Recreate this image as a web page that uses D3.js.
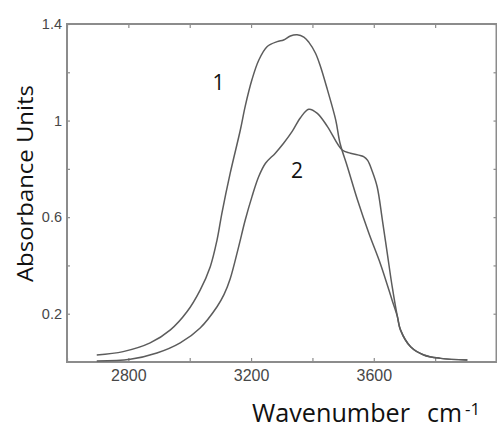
<!DOCTYPE html>
<html>
<head>
<meta charset="utf-8">
<script src="https://cdn.jsdelivr.net/npm/d3@7"></script>
<style>
  html, body { margin: 0; padding: 0; background: #fff; }
  svg { display: block; }
</style>
</head>
<body>
<div id="chart"></div>
<script>
// Spectrum 1 (upper curve)
const wavenumber1 = [2697, 2783, 2871, 2937, 2991, 3034, 3067, 3089, 3105, 3132, 3165, 3181, 3203, 3225,
  3252, 3285, 3306, 3328, 3350, 3372, 3388, 3410, 3426, 3449, 3476, 3490, 3514, 3547, 3584, 3622,
  3660, 3677, 3687, 3720, 3763, 3818, 3905]
const absorbance1 = [0.029, 0.043, 0.079, 0.133, 0.208, 0.298, 0.395, 0.505, 0.617, 0.782, 0.961, 1.06,
  1.17, 1.25, 1.306, 1.327, 1.334, 1.350, 1.355, 1.346, 1.325, 1.279, 1.225, 1.127, 1.002, 0.906,
  0.809, 0.671, 0.533, 0.405, 0.255, 0.188, 0.133, 0.063, 0.029, 0.015, 0.008]

// Spectrum 2 (lower curve)
const wavenumber2 = [2697, 2806, 2893, 2969, 3034, 3089, 3112, 3132, 3159, 3181, 3203, 3225, 3247, 3279,
  3306, 3334, 3361, 3388, 3416, 3449, 3497, 3524, 3568, 3580, 3595, 3611, 3628, 3644, 3660, 3677,
  3687, 3720, 3763, 3818, 3905]
const absorbance2 = [0.004, 0.011, 0.037, 0.079, 0.141, 0.229, 0.28, 0.345, 0.475, 0.588, 0.685, 0.768,
  0.823, 0.865, 0.906, 0.955, 1.012, 1.047, 1.030, 0.975, 0.878, 0.865, 0.850, 0.835, 0.790, 0.726,
  0.588, 0.450, 0.312, 0.188, 0.133, 0.063, 0.029, 0.015, 0.008]

const xTicks = [2600, 2800, 3000, 3200, 3400, 3600, 3800, 4000]
const xTickLabels = { 2800: '2800', 3200: '3200', 3600: '3600' }
const yTicks = [0.2, 0.4, 0.6, 0.8, 1.0, 1.2, 1.4]
const yTickLabels = { 0.2: '0.2', 0.6: '0.6', 1: '1', 1.4: '1.4' }

const W = 497, H = 428
const plot = { left: 67, right: 496.5, top: 24, bottom: 362 }

const svg = d3.select('#chart').append('svg')
  .attr('width', W)
  .attr('height', H)

const x = d3.scaleLinear().domain([2600, 4000]).range([plot.left, plot.right])
const y = d3.scaleLinear().domain([0, 1.4]).range([plot.bottom, plot.top])

const AXIS_COLOR = '#8c8c8c'
const LABEL_COLOR = '#474747'

function styleAxis(g) {
  g.select('.domain').remove()
  g.selectAll('.tick line').attr('stroke', AXIS_COLOR).attr('stroke-width', 1.2)
  g.selectAll('.tick text')
    .attr('fill', LABEL_COLOR)
    .style('font-family', 'Arial, "Liberation Sans", sans-serif')
}

// bottom axis (labelled)
svg.append('g')
  .attr('transform', `translate(0,${plot.bottom})`)
  .call(d3.axisBottom(x).tickValues(xTicks).tickSize(-4).tickPadding(8)
    .tickFormat(d => xTickLabels[d] || ''))
  .call(styleAxis)
  .call(g => g.selectAll('.tick text').style('font-size', '16px'))

// top axis (ticks only)
svg.append('g')
  .attr('transform', `translate(0,${plot.top})`)
  .call(d3.axisTop(x).tickValues(xTicks).tickSize(-4).tickFormat(''))
  .call(styleAxis)

// left axis (labelled)
svg.append('g')
  .attr('transform', `translate(${plot.left},0)`)
  .call(d3.axisLeft(y).tickValues(yTicks).tickSize(-3).tickPadding(5)
    .tickFormat(d => yTickLabels[+d.toFixed(1)] || ''))
  .call(styleAxis)
  .call(g => g.selectAll('.tick text').style('font-size', '14.5px'))

// right axis (ticks only)
svg.append('g')
  .attr('transform', `translate(${plot.right},0)`)
  .call(d3.axisRight(y).tickValues(yTicks).tickSize(-3).tickFormat(''))
  .call(styleAxis)

// frame
svg.append('rect')
  .attr('x', plot.left)
  .attr('y', plot.top)
  .attr('width', plot.right - plot.left)
  .attr('height', plot.bottom - plot.top)
  .attr('fill', 'none')
  .attr('stroke', AXIS_COLOR)
  .attr('stroke-width', 2)

// curves
const line = d3.line()
  .x(d => x(d[0]))
  .y(d => y(d[1]))
  .curve(d3.curveCatmullRom.alpha(0.5))

const series = [
  d3.zip(wavenumber1, absorbance1),
  d3.zip(wavenumber2, absorbance2),
]

svg.append('g').selectAll('path')
  .data(series)
  .enter().append('path')
  .attr('d', line)
  .attr('fill', 'none')
  .attr('stroke', '#5c5c5c')
  .attr('stroke-width', 1.5)
  .attr('stroke-linejoin', 'round')

// curve labels
const curveLabels = [
  { text: '1', wn: 3094, a: 1.125 },
  { text: '2', wn: 3350, a: 0.763 },
]
svg.append('g').selectAll('text')
  .data(curveLabels)
  .enter().append('text')
  .attr('x', d => x(d.wn))
  .attr('y', d => y(d.a))
  .attr('text-anchor', 'middle')
  .style('font-family', '"Open Sans", sans-serif')
  .style('font-size', '21px')
  .attr('fill', '#111')
  .text(d => d.text)

// y title
svg.append('text')
  .attr('transform', 'translate(33,183.5) rotate(-90)')
  .attr('text-anchor', 'middle')
  .attr('textLength', 197)
  .attr('lengthAdjust', 'spacingAndGlyphs')
  .style('font-family', '"Open Sans", sans-serif')
  .style('font-size', '21px')
  .attr('fill', '#111')
  .text('Absorbance Units')

// x title
const xt = svg.append('g').attr('fill', '#111')
  .style('font-family', '"Open Sans", sans-serif')
xt.append('text')
  .attr('x', 252).attr('y', 422)
  .attr('textLength', 158)
  .attr('lengthAdjust', 'spacingAndGlyphs')
  .style('font-size', '25px')
  .text('Wavenumber')
xt.append('text')
  .attr('x', 427).attr('y', 422)
  .attr('textLength', 35)
  .attr('lengthAdjust', 'spacingAndGlyphs')
  .style('font-size', '25px')
  .text('cm')
xt.append('text')
  .attr('x', 465).attr('y', 415)
  .style('font-size', '17px')
  .text('-1')
</script>
</body>
</html>
